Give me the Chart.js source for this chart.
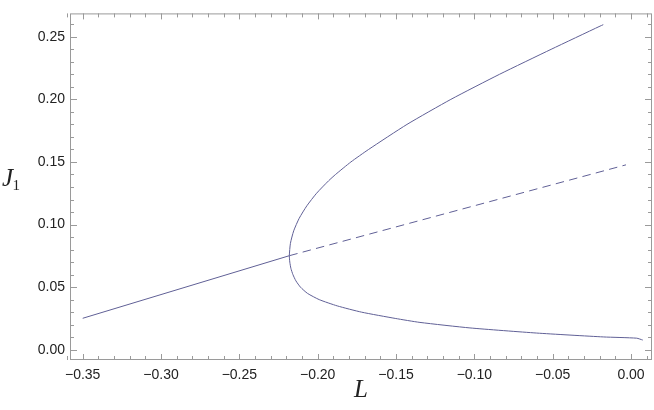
<!DOCTYPE html>
<html>
<head>
<meta charset="utf-8">
<script src="https://cdn.jsdelivr.net/npm/chart.js@4.4.0/dist/chart.umd.min.js"></script>
<style>
  html, body { margin: 0; padding: 0; background: #fff; }
</style>
</head>
<body>
<canvas id="chart" width="654" height="410"></canvas>
<script>
// stable branch (solid straight part)
const stableL = [-0.35, -0.2181];
const stableJ = [0.0251, 0.0751];
// unstable branch (dashed)
const unstableL = [-0.2181, -0.0032];
const unstableJ = [0.0751, 0.1477];
// fold curve, from the top end round the turning point to the lower end
const foldL = [-0.0177, -0.0198, -0.0510, -0.0840, -0.1150, -0.1430, -0.1675, -0.1788, -0.1886, -0.1930, -0.2007,
               -0.2069, -0.2118, -0.2153, -0.2174, -0.2181, -0.2178, -0.2171, -0.2158, -0.2139, -0.2110, -0.2065,
               -0.1990, -0.1875, -0.1720, -0.1505, -0.1347, -0.1028, -0.0602, -0.0177, 0.0036, 0.0075];
const foldJ = [0.2597, 0.2585, 0.2400, 0.2200, 0.2000, 0.1800, 0.1600, 0.1500, 0.1400, 0.1350, 0.1250,
               0.1150, 0.1050, 0.0950, 0.0850, 0.0751, 0.0700, 0.0650, 0.0600, 0.0550, 0.0500, 0.0450,
               0.0400, 0.0350, 0.0300, 0.0250, 0.0218, 0.0174, 0.0133, 0.0102, 0.0092, 0.0077];

const xTicks = [-0.35, -0.30, -0.25, -0.20, -0.15, -0.10, -0.05, 0.00];
const yTicks = [0.00, 0.05, 0.10, 0.15, 0.20, 0.25];

const lineColor = "rgb(96, 96, 150)";
const frameColor = "#9a9a9a";

const pts = (xs, ys) => xs.map((x, i) => ({ x, y: ys[i] }));
const fmt = v => (v < 0 ? "\u2212" : "") + Math.abs(v).toFixed(2);

// frame with inward ticks, like the original plot
const framePlugin = {
  id: "frame",
  afterDatasetsDraw(chart) {
    const { ctx, chartArea: a, scales } = chart;
    const xs = scales.x, ys = scales.y;
    ctx.save();
    ctx.strokeStyle = frameColor;
    ctx.lineWidth = 1;
    ctx.beginPath();
    for (let i = -36; i <= 1; i++) {
      const px = Math.round(xs.getPixelForValue(i / 100)) + 0.5;
      const len = i % 5 === 0 ? 6 : 4;
      ctx.moveTo(px, a.bottom); ctx.lineTo(px, a.bottom - len);
      ctx.moveTo(px, a.top); ctx.lineTo(px, a.top + len);
    }
    for (let i = 0; i <= 26; i++) {
      const py = Math.round(ys.getPixelForValue(i / 100)) + 0.5;
      const len = i % 5 === 0 ? 7 : 4;
      ctx.moveTo(a.left, py); ctx.lineTo(a.left + len, py);
      ctx.moveTo(a.right, py); ctx.lineTo(a.right - len, py);
    }
    ctx.stroke();
    ctx.strokeRect(a.left + 0.5, a.top + 0.5, a.right - a.left - 1, a.bottom - a.top - 1);

    // axis titles
    ctx.fillStyle = "#222";
    ctx.textBaseline = "alphabetic";
    ctx.font = "italic 25px 'Liberation Serif'";
    ctx.textAlign = "center";
    ctx.fillText("L", (a.left + a.right) / 2, 397);
    ctx.textAlign = "left";
    ctx.fillText("J", 2, 186);
    ctx.font = "15px 'Liberation Serif'";
    ctx.fillText("1", 12.5, 190);
    ctx.restore();
  }
};

new Chart(document.getElementById("chart"), {
  type: "scatter",
  data: {
    datasets: [
      { data: pts(stableL, stableJ), showLine: true, borderColor: lineColor, borderWidth: 1, pointRadius: 0 },
      { data: pts(unstableL, unstableJ), showLine: true, borderColor: lineColor, borderWidth: 1, pointRadius: 0,
        borderDash: [8.5, 5.3] },
      { data: pts(foldL, foldJ), showLine: true, borderColor: lineColor, borderWidth: 1, pointRadius: 0,
        tension: 0.2 }
    ]
  },
  options: {
    responsive: false,
    animation: false,
    layout: { padding: { left: 0, right: 2, top: 0, bottom: 0 } },
    plugins: { legend: { display: false }, tooltip: { enabled: false } },
    scales: {
      x: {
        type: "linear",
        min: -0.3581,
        max: 0.0134,
        afterBuildTicks: s => { s.ticks = xTicks.map(v => ({ value: v })); },
        afterFit: s => { s.height = 50; },
        grid: { display: false, drawTicks: false },
        border: { display: false },
        ticks: { callback: fmt, padding: 7, maxRotation: 0, autoSkip: false,
                 color: "#222", font: { family: "'Liberation Sans'", size: 14 } }
      },
      y: {
        type: "linear",
        min: -0.00823,
        max: 0.2687,
        afterBuildTicks: s => { s.ticks = yTicks.map(v => ({ value: v })); },
        afterFit: s => { s.width = 70; },
        grid: { display: false, drawTicks: false },
        border: { display: false },
        ticks: { callback: fmt, padding: 5, autoSkip: false,
                 color: "#222", font: { family: "'Liberation Sans'", size: 14 } }
      }
    }
  },
  plugins: [framePlugin]
});
</script>
</body>
</html>
